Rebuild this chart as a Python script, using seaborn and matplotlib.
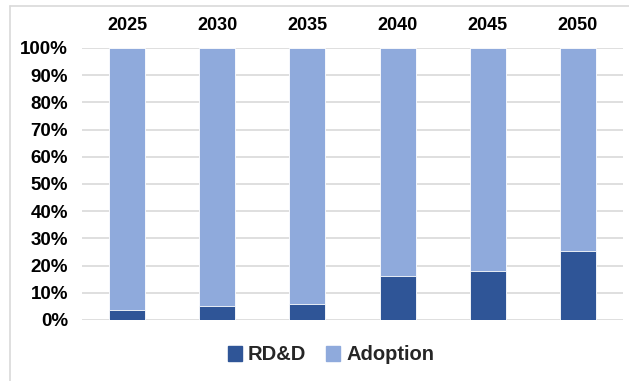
import matplotlib
matplotlib.use("Agg")
import matplotlib.pyplot as plt
from matplotlib.lines import Line2D
from matplotlib.patches import Patch
import seaborn as sns
import pandas as pd

years = ["2025", "2030", "2035", "2040", "2045", "2050"]
rdd_share = [3.7, 5.0, 6.0, 16.0, 18.0, 25.5]
adoption_share = [100 - v for v in rdd_share]
y_ticks = [0, 10, 20, 30, 40, 50, 60, 70, 80, 90, 100]

rdd_color = "#2F5597"
adoption_color = "#8FAADC"

df = pd.DataFrame({"year": years, "RD&D": rdd_share, "Adoption": adoption_share})
df["total"] = df["RD&D"] + df["Adoption"]

sns.set_theme(style="white")
plt.rcParams["font.family"] = ["Liberation Sans", "DejaVu Sans"]

fig = plt.figure(figsize=(6.29, 3.81), dpi=100)
ax = fig.add_axes([82 / 629, 1 - 320 / 381, (623 - 82) / 629, (320 - 48) / 381])

# stacked bars: full stack in the adoption colour, RD&D drawn over its base
sns.barplot(data=df, x="year", y="total", color=adoption_color, width=0.4,
            saturation=1, edgecolor="white", linewidth=0.6, ax=ax, zorder=3)
sns.barplot(data=df, x="year", y="RD&D", color=rdd_color, width=0.4,
            saturation=1, edgecolor="white", linewidth=0.6, ax=ax, zorder=4)

ax.set_ylim(0, 100)
ax.set_yticks(y_ticks)
ax.set_yticklabels([f"{t}%" for t in y_ticks], fontsize=13.5, fontweight="bold")
ax.yaxis.grid(True, color="#D9D9D9", linewidth=1.2, zorder=0)
ax.set_axisbelow(True)

ax.xaxis.tick_top()
ax.set_xticks(range(len(years)))
ax.set_xticklabels(years, fontsize=13, fontweight="bold")
ax.tick_params(axis="x", length=0, pad=10, colors="black")
ax.tick_params(axis="y", length=0, pad=10, colors="black")
ax.set_xlabel("")
ax.set_ylabel("")
for s in ax.spines.values():
    s.set_visible(False)

handles = [Patch(color=rdd_color, label="RD&D"),
           Patch(color=adoption_color, label="Adoption")]
fig.legend(handles=handles, loc="center", bbox_to_anchor=(331 / 629, 1 - 355 / 381),
           ncol=2, frameon=False, prop={"size": 14.5, "weight": "bold"},
           handlelength=0.7, handleheight=0.7, handletextpad=0.3, columnspacing=1.0)

# chart frame lines along the top and left edges
fig.add_artist(Line2D([10 / 629, 10 / 629], [0, 1 - 6 / 381], color="#D9D9D9", linewidth=1.2))
fig.add_artist(Line2D([10 / 629, 1], [1 - 6 / 381, 1 - 6 / 381], color="#D9D9D9", linewidth=1.2))

fig.savefig("out.png", dpi=100)
